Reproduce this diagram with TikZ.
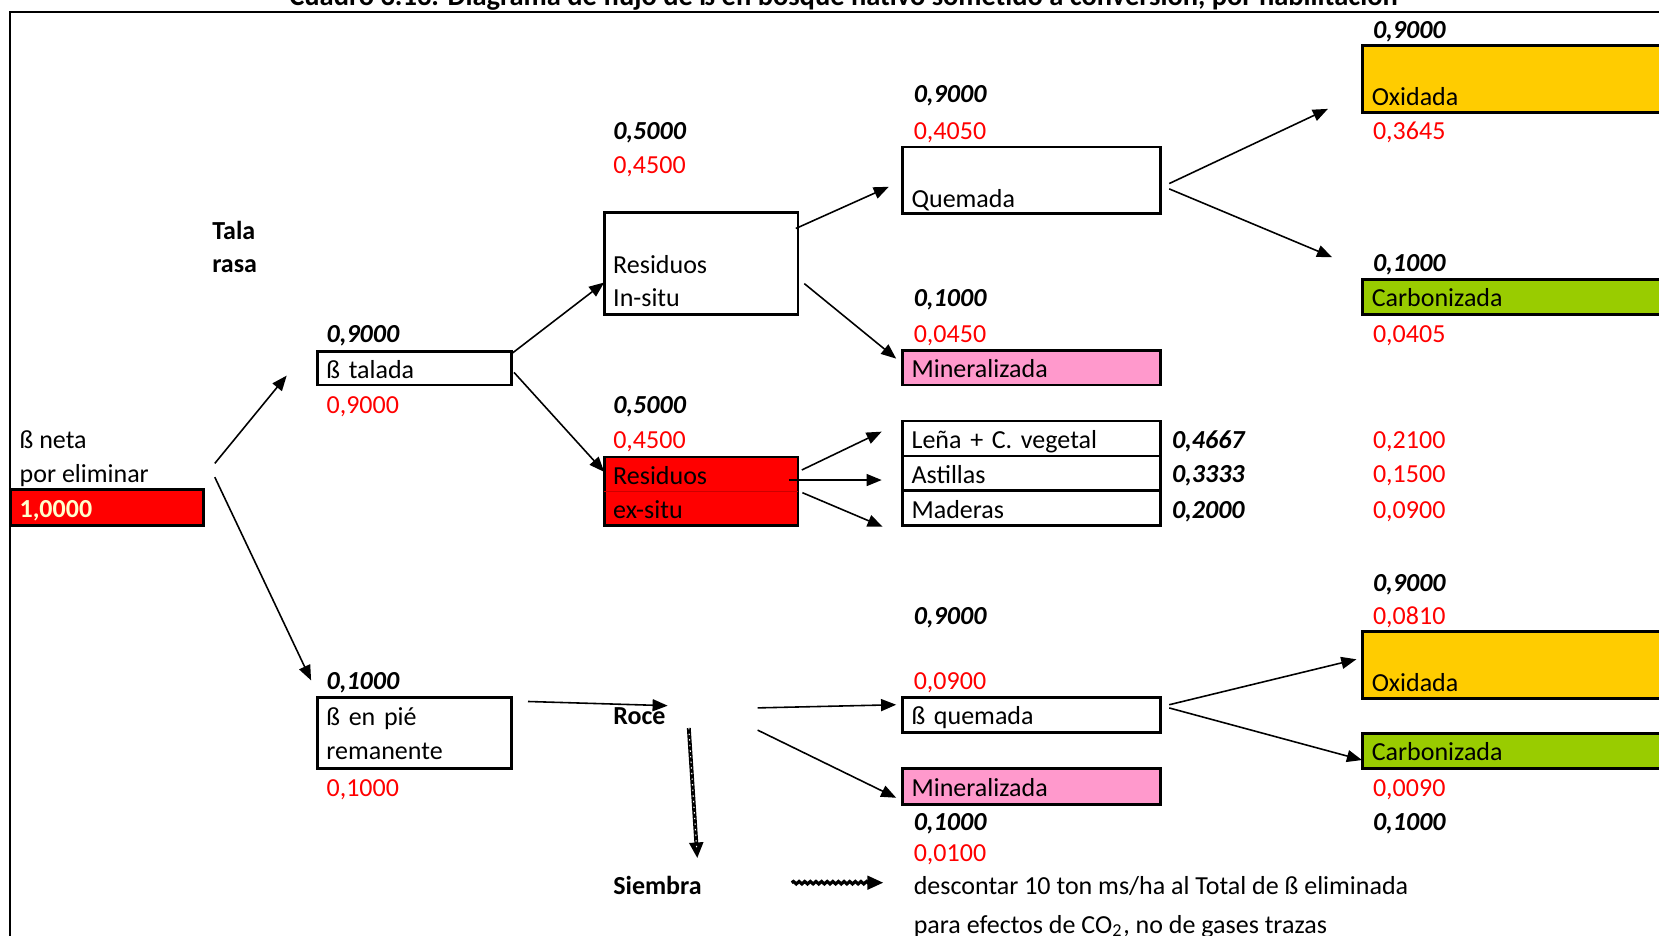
\documentclass[tikz,border=0pt]{standalone}
\usepackage{fontspec}
\setmainfont{Carlito}
\renewcommand{\normalsize}{\fontsize{7.4}{9.5}\selectfont}
\usetikzlibrary{positioning,arrows.meta,decorations.pathmorphing}
\definecolor{rojo}{HTML}{FF0000}
\definecolor{rosa}{HTML}{FF99CC}
\definecolor{oro}{HTML}{FFCC00}
\definecolor{verde}{HTML}{99CC00}
\definecolor{crema}{HTML}{FFFFCC}
\tikzset{
  fila/.style={execute at begin node=\strut, execute at end node=\strut},
  celda/.style={draw, line width=0.8pt, anchor=north west, align=left,
    inner xsep=0.09cm, inner ysep=0pt, outer sep=0pt,
    execute at begin node={\rule{0pt}{7.55pt}},
    execute at end node={\rule[-1.95pt]{0pt}{1.95pt}}},
  corta/.style={celda, text width=1.757cm},
  ancha/.style={celda, text width=2.401cm},
  larga/.style={celda, text width=3.5cm},
  texto/.style={fila, anchor=west, inner sep=0pt, align=left},
  peso/.style={texto, font=\bfseries\itshape},
  valor/.style={texto, text=red},
  negrita/.style={texto, font=\bfseries},
  flecha/.style={line width=0.45pt, -{Triangle[length=4.3pt,width=3.4pt]}},
  puntos/.style={line width=1.1pt, -{Triangle[length=4.5pt,width=3.8pt]},
    postaction={draw=white, line width=0.3pt, dash pattern=on 0.4pt off 1.2pt, shorten >=2pt, -}},
  onda/.style={line width=0.9pt, decorate,
    decoration={snake, amplitude=0.35pt, segment length=1.6pt, post length=3pt},
    -{Triangle[length=4.5pt,width=3.8pt]}},
}
\begin{document}
\begin{tikzpicture}[x=1cm,y=1cm]
  \useasboundingbox (0,0) rectangle (16.59,-9.36);
  % marco y titulo
  \draw[line width=0.6pt] (17,-0.117) -| (0.10,-10);
  \node[font=\fontsize{8.1}{9.5}\selectfont\bfseries, anchor=base, inner sep=0pt] (titulo) at (8.435,-0.053)
    {Cuadro 3.13. Diagrama de flujo de ß en bosque nativo sometido a conversión, por habilitación};

  % cajas
  \node[celda, text width=1.745cm, minimum height=0.36cm, fill=rojo, text=crema, font=\bfseries] (neta) at (0.106,-4.899) {1,0000};
  \node[corta, minimum height=0.338cm] (talada) at (3.174,-3.513) {ß talada};
  \node[corta, minimum height=1.016cm] (insitu) at (6.042,-2.127) {\strut\\Residuos\\In-situ};
  \node[corta, minimum height=0.688cm, fill=rojo] (exsitu) at (6.042,-4.571) {Residuos\\ex-situ};
  \draw[red!80!black, line width=0.2pt] (exsitu.west) -- (exsitu.east);
  \node[ancha, minimum height=0.656cm] (quemada) at (9.026,-1.471) {\strut\\Quemada};
  \node[ancha, minimum height=0.349cm, fill=rosa] (mineral) at (9.026,-3.502) {Mineralizada};
  \node[ancha, minimum height=0.349cm] (lena) at (9.026,-4.211) {Leña + C. vegetal};
  \node[ancha, minimum height=0.349cm, below=0pt of lena.south west, anchor=north west] (astillas) {Astillas};
  \node[ancha, minimum height=0.349cm, below=0pt of astillas.south west, anchor=north west] (maderas) {Maderas};
  \node[larga, minimum height=0.667cm, fill=oro] (oxid) at (13.628,-0.455) {\strut\\Oxidada};
  \node[larga, minimum height=0.35cm, fill=verde] (carbon) at (13.628,-2.793) {Carbonizada};
  \node[corta, minimum height=0.709cm] (enpie) at (3.174,-6.973) {ß en pié\\remanente};
  \node[ancha, minimum height=0.349cm] (bquemada) at (9.026,-6.973) {ß quemada};
  \node[ancha, minimum height=0.36cm, fill=rosa] (mineralb) at (9.026,-7.682) {Mineralizada};
  \node[larga, minimum height=0.656cm, fill=oro] (oxidb) at (13.628,-6.317) {\strut\\Oxidada};
  \node[larga, minimum height=0.349cm, fill=verde] (carbonb) at (13.628,-7.333) {Carbonizada};

  % textos
  \node[texto] (netatxt) at (0.19,-4.617) {ß neta\\por eliminar};
  \node[negrita] (tala) at (2.116,-2.52) {Tala\\rasa};
  \node[negrita] (roce) at (6.126,-7.181) {Roce};
  \node[negrita] (siembra) at (6.126,-8.874) {Siembra};
  \node[texto] (descontar) at (9.131,-8.874) {descontar 10 ton ms/ha al Total de ß eliminada};
  \node[texto] (efectos) at (9.131,-9.266) {para efectos de CO\textsubscript{2}, no de gases trazas};

  % fracciones y valores
  \node[peso] (p1) at (3.259,-3.362) {0,9000};
  \node[valor] (v1) at (3.259,-4.071) {0,9000};
  \node[peso] (p2) at (6.126,-1.330) {0,5000};
  \node[valor] (v2) at (6.126,-1.669) {0,4500};
  \node[peso] (p3) at (6.126,-4.071) {0,5000};
  \node[valor] (v3) at (6.126,-4.420) {0,4500};
  \node[peso] (p4) at (9.131,-0.960) {0,9000};
  \node[valor] (v4) at (9.131,-1.330) {0,4050};
  \node[peso] (p5) at (9.131,-3.002) {0,1000};
  \node[valor] (v5) at (9.131,-3.362) {0,0450};
  \node[peso] (pl1) at (11.713,-4.420) {0,4667};
  \node[peso] (pl2) at (11.713,-4.758) {0,3333};
  \node[peso] (pl3) at (11.713,-5.118) {0,2000};
  \node[valor] (vl1) at (13.723,-4.420) {0,2100};
  \node[valor] (vl2) at (13.723,-4.758) {0,1500};
  \node[valor] (vl3) at (13.723,-5.118) {0,0900};
  \node[peso] (p6) at (13.723,-0.314) {0,9000};
  \node[valor] (v6) at (13.723,-1.330) {0,3645};
  \node[peso] (p7) at (13.723,-2.653) {0,1000};
  \node[valor] (v7) at (13.723,-3.362) {0,0405};
  \node[peso] (p8) at (3.259,-6.832) {0,1000};
  \node[valor] (v8) at (3.259,-7.901) {0,1000};
  \node[peso] (p9) at (9.131,-6.176) {0,9000};
  \node[valor] (v9) at (9.131,-6.832) {0,0900};
  \node[peso] (p10) at (9.131,-8.239) {0,1000};
  \node[valor] (v10) at (9.131,-8.546) {0,0100};
  \node[peso] (p11) at (13.723,-5.848) {0,9000};
  \node[valor] (v11) at (13.723,-6.176) {0,0810};
  \node[valor] (v12) at (13.723,-7.901) {0,0090};
  \node[peso] (p12) at (13.723,-8.239) {0,1000};

  % flechas
  \draw[flecha] ([shift={(0.117,0.265)}]neta.north east) -- ([shift={(-0.307,-0.074)}]talada.west);
  \draw[flecha] ([shift={(0.117,0.127)}]neta.north east) -- ([shift={(-0.063,0.169)}]enpie.north west);
  \draw[flecha] ([shift={(0.009,-0.021)}]talada.north east) -- ([shift={(0,-0.19)}]insitu.west);
  \draw[flecha] ([shift={(0.029,-0.042)}]talada.east) -- ([shift={(0,-0.148)}]exsitu.north west);
  \draw[flecha] ([shift={(-0.021,-0.158)}]insitu.north east) -- ([shift={(-0.138,-0.063)}]quemada.west);
  \draw[flecha] ([shift={(0.064,-0.201)}]insitu.east) -- ([shift={(-0.064,0.09)}]mineral.west);
  \draw[flecha] ([shift={(0.039,0.215)}]exsitu.east) -- ([shift={(-0.209,0.069)}]lena.west);
  \draw[flecha] ([shift={(-0.088,0.115)}]exsitu.east) -- ([shift={(-0.209,-0.066)}]astillas.west);
  \draw[flecha] ([shift={(0.045,-0.012)}]exsitu.east) -- ([shift={(-0.199,-0.184)}]maderas.west);
  \draw[flecha] ([shift={(0.085,-0.031)}]quemada.east) -- ([shift={(-0.349,-0.30)}]oxid.west);
  \draw[flecha] ([shift={(0.085,-0.084)}]quemada.east) -- ([shift={(-0.307,0.222)}]carbon.north west);
  \draw[flecha] ([shift={(0.169,-0.042)}]enpie.north east) -- ([shift={(0.551,0.124)}]roce.west);
  \draw[flecha] ([shift={(1.45,0.102)}]roce.west) -- ([shift={(-0.064,0.10)}]bquemada.west);
  \draw[flecha] ([shift={(1.45,-0.12)}]roce.west) -- ([shift={(-0.064,-0.116)}]mineralb.west);
  \draw[flecha] ([shift={(0.085,0.10)}]bquemada.east) -- ([shift={(-0.064,0.392)}]oxidb.south west);
  \draw[flecha] ([shift={(0.085,0.068)}]bquemada.east) -- ([shift={(-0.008,-0.093)}]carbonb.west);
  \draw[puntos] ([shift={(0.762,-0.099)}]roce.west) -- ([shift={(0.847,0.291)}]siembra.west);
  \draw[onda] ([shift={(1.791,0.047)}]siembra.west) -- ([shift={(-0.298,0.047)}]descontar.west);
\end{tikzpicture}
\end{document}
